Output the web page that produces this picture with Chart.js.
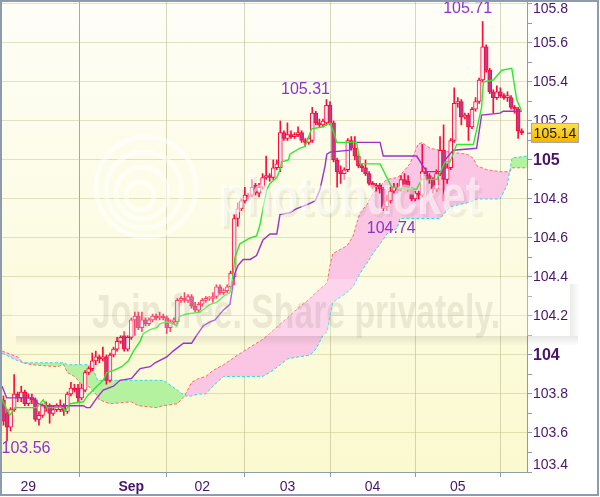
<!DOCTYPE html>
<html>
<head>
<meta charset="utf-8">
<script src="https://cdn.jsdelivr.net/npm/chart.js@4"></script>
<style>
  html, body { margin: 0; padding: 0; background: #fff; }
  #wrap { width: 600px; height: 497px; }
</style>
</head>
<body>
<div id="wrap"><canvas id="c" width="600" height="497"></canvas></div>
<script>
// hourly candles, x = slot index
const opens = [103.77,103.70,103.63,103.72,103.80,103.78,103.81,103.75,103.78,103.77,
  103.67,103.69,103.74,103.74,103.70,103.72,103.72,103.74,103.71,103.80,
  103.83,103.83,103.78,103.82,103.91,103.93,103.97,103.99,103.98,103.99,
  103.87,104.00,104.03,104.07,104.10,104.03,104.09,104.18,104.20,104.14,
  104.18,104.16,104.18,104.20,104.19,104.20,104.19,104.14,104.17,104.17,
  104.28,104.29,104.28,104.30,104.25,104.23,104.26,104.28,104.29,104.29,
  104.30,104.35,104.32,104.33,104.35,104.40,104.70,104.75,104.79,104.82,
  104.82,104.87,104.83,104.86,104.91,104.92,104.91,104.96,104.96,105.14,
  105.11,105.13,105.12,105.13,105.14,105.10,105.09,105.10,105.24,105.19,
  105.18,105.19,105.28,105.19,105.00,104.94,104.93,104.95,105.10,105.06,
  105.02,104.97,104.96,104.93,104.88,104.86,104.87,104.85,104.76,104.79,
  104.84,104.86,104.85,104.90,104.89,104.85,104.80,104.83,104.82,104.94,
  104.92,104.90,104.85,104.93,105.05,104.90,104.96,105.10,105.29,105.30,
  105.22,105.23,105.17,105.26,105.30,105.41,105.58,105.46,105.35,105.32,
  105.35,105.33,105.32,105.32,105.27,105.26,105.15];
const highs = [103.79,103.72,103.73,103.90,103.81,103.84,103.82,103.80,103.80,103.78,
  103.71,103.75,103.76,103.75,103.74,103.75,103.77,103.75,103.81,103.86,
  103.85,103.85,103.85,103.92,103.94,104.01,104.02,104.00,104.04,104.00,
  104.01,104.04,104.09,104.10,104.12,104.10,104.19,104.22,104.22,104.22,
  104.19,104.19,104.21,104.21,104.22,104.21,104.20,104.18,104.19,104.29,
  104.30,104.32,104.31,104.31,104.27,104.27,104.29,104.30,104.30,104.32,
  104.36,104.36,104.34,104.36,104.43,104.72,104.78,104.80,104.86,104.83,
  104.90,104.88,104.88,104.93,105.02,104.93,105.00,105.00,105.20,105.15,
  105.19,105.15,105.14,105.17,105.15,105.11,105.12,105.27,105.25,105.21,
  105.21,105.31,105.30,105.20,105.01,104.97,104.96,105.11,105.12,105.12,
  105.03,104.98,105.00,104.94,104.89,104.88,104.88,104.86,104.82,104.86,
  104.88,104.88,104.92,104.93,104.92,104.86,104.84,104.84,105.08,104.96,
  104.93,104.91,104.95,105.12,105.18,104.98,105.11,105.37,105.32,105.31,
  105.24,105.24,105.27,105.32,105.42,105.71,105.59,105.47,105.36,105.38,
  105.37,105.34,105.35,105.33,105.28,105.27,105.16];
const lows = [103.64,103.56,103.61,103.71,103.76,103.76,103.74,103.74,103.75,103.66,
  103.64,103.68,103.71,103.65,103.69,103.71,103.71,103.69,103.70,103.79,
  103.81,103.76,103.77,103.81,103.90,103.92,103.95,103.96,103.97,103.85,
  103.86,103.99,104.02,104.06,104.02,104.02,104.08,104.10,104.13,104.12,
  104.15,104.15,104.17,104.18,104.18,104.18,104.11,104.12,104.16,104.16,
  104.27,104.27,104.27,104.24,104.22,104.22,104.25,104.27,104.28,104.27,
  104.29,104.31,104.31,104.32,104.34,104.36,104.66,104.74,104.78,104.80,
  104.81,104.82,104.81,104.85,104.90,104.89,104.90,104.95,104.94,105.10,
  105.10,105.11,105.11,105.12,105.09,105.07,105.08,105.09,105.18,105.17,
  105.17,105.18,105.18,104.99,104.86,104.88,104.90,104.94,105.05,105.00,
  104.96,104.94,104.92,104.87,104.85,104.84,104.83,104.74,104.74,104.78,
  104.83,104.83,104.84,104.85,104.84,104.79,104.79,104.80,104.81,104.90,
  104.88,104.83,104.84,104.92,104.79,104.88,104.95,105.09,105.27,105.18,
  105.21,105.10,105.16,105.25,105.29,105.40,105.45,105.34,105.24,105.31,
  105.32,105.31,105.30,105.26,105.24,105.11,105.13];
const closes = [103.66,103.63,103.72,103.80,103.78,103.81,103.75,103.78,103.77,103.67,
  103.69,103.74,103.73,103.70,103.72,103.74,103.74,103.71,103.80,103.83,
  103.82,103.78,103.83,103.91,103.93,103.97,103.99,103.98,103.99,103.87,
  104.00,104.03,104.07,104.09,104.03,104.09,104.18,104.20,104.14,104.18,
  104.16,104.18,104.20,104.19,104.20,104.19,104.14,104.17,104.18,104.28,
  104.29,104.28,104.30,104.25,104.23,104.26,104.28,104.29,104.29,104.30,
  104.35,104.32,104.33,104.35,104.42,104.70,104.75,104.79,104.82,104.81,
  104.86,104.83,104.86,104.91,104.92,104.91,104.96,104.98,105.14,105.11,
  105.13,105.12,105.13,105.14,105.10,105.09,105.11,105.24,105.19,105.18,
  105.20,105.28,105.19,105.00,104.94,104.93,104.95,105.10,105.06,105.02,
  104.97,104.96,104.93,104.88,104.86,104.87,104.85,104.75,104.79,104.84,
  104.86,104.84,104.90,104.86,104.85,104.80,104.83,104.82,104.94,104.92,
  104.90,104.85,104.93,105.05,104.90,104.96,105.10,105.29,105.30,105.22,
  105.23,105.17,105.26,105.30,105.41,105.58,105.46,105.35,105.32,105.35,
  105.33,105.32,105.33,105.27,105.26,105.15,105.14];

// conversion line (green) and base line (purple), read at their corners
const tenkanX = [-0.4,1.8,3.2,9.4,11.2,12.2,16.9,17.3,18.7,22.5,23.6,26.3,28.1,29.1,30.9,33.3,35.2,36.6,38.5,39.4,
  41.3,43.2,44.1,46,47.8,48.8,49.7,51.6,55.4,56.8,58.2,60.1,61.9,63.8,64.6,65.2,66.6,69.5,71.3,72.3,
  73.2,74.2,75.1,77,77.9,78.4,80.3,80.7,83.5,85,86.8,90.1,92,93.1,93.9,99.5,100.5,106.1,109.4,116.4,
  117.8,122.1,124.4,125.8,127.7,132.4,134.7,135.2,138,140.4,143.2,144.6,146];
const tenkanY = [103.77,103.69,103.73,103.73,103.77,103.73,103.73,103.71,103.75,103.76,103.79,103.84,103.87,103.91,103.92,103.94,103.97,104.02,104.07,104.11,
  104.13,104.14,104.16,104.17,104.16,104.15,104.20,104.21,104.22,104.24,104.26,104.27,104.30,104.32,104.40,104.50,104.57,104.60,104.61,104.67,
  104.76,104.85,104.88,104.91,104.95,104.99,105.00,105.03,105.06,105.07,105.16,105.17,105.19,105.14,105.09,105.09,104.98,104.98,104.86,104.85,
  104.90,104.90,104.99,104.99,105.08,105.08,105.27,105.40,105.41,105.46,105.47,105.31,105.25];
const kijunX = [-0.4,0.9,8.4,9.8,11.2,22.5,23.4,24.4,26.3,28.1,31,32.8,36.1,37.5,38.5,41.3,42.7,46,47.8,50.7,
  53,54.4,56.3,58.2,59.6,61.9,63.8,65.2,66.1,67.5,69.5,71.3,73.1,75.1,77,77.9,80.7,82.6,85.4,87.8,
  89.2,90.6,91.1,92,97.6,98,106.1,107,116.4,119.2,123.5,124.4,126.7,133.3,134.7,139.9,140.8,146];
const kijunY = [103.84,103.78,103.78,103.75,103.74,103.74,103.73,103.73,103.78,103.82,103.84,103.87,103.88,103.91,103.93,103.94,103.96,103.99,104.02,104.06,
  104.06,104.10,104.15,104.17,104.18,104.23,104.26,104.42,104.46,104.49,104.49,104.51,104.59,104.62,104.62,104.72,104.73,104.75,104.77,104.79,
  104.85,104.97,105.03,105.04,105.05,105.09,105.09,105.02,105.02,104.94,104.94,105.00,105.05,105.06,105.23,105.24,105.25,105.25];

// cloud: leading span A (red dashed) and span B (cyan dashed)
const cloudX = [-0.4,4,5.5,8,15,17,18,20,22,24,25,26.5,27,30,36,38,43,45,49,51,
  53,55,57,59,62,66,69.5,73,75,78,80,83,86.4,88,90,91.2,92,92.8,96.8,98.5,
  99.6,100.5,102.4,104.1,106.9,108,110.9,111.7,114.5,116.8,117.9,120.2,123,125.8,130.6,132.3,133.4,136.2,139.9,141.9,
  142.7,143.3,147.5];
const spanA = [104.02,103.99,103.96,103.95,103.94,103.95,103.91,103.89,103.85,103.84,103.82,103.79,103.77,103.75,103.76,103.74,103.73,103.74,103.75,103.79,
  103.86,103.88,103.89,103.92,103.95,104.00,104.04,104.08,104.11,104.16,104.19,104.24,104.29,104.32,104.35,104.37,104.46,104.52,104.56,104.61,
  104.68,104.73,104.77,104.83,104.88,104.90,104.91,104.92,104.98,105.08,105.09,105.06,105.05,105.04,105.03,105.01,104.97,104.95,104.94,104.94,
  104.94,104.96,104.96];
const spanB = [104.01,103.97,103.96,103.96,103.96,103.96,103.95,103.95,103.95,103.95,103.94,103.87,103.87,103.87,103.87,103.87,103.87,103.87,103.82,103.79,
  103.79,103.80,103.80,103.84,103.89,103.89,103.89,103.89,103.91,103.95,103.98,103.99,104.00,104.03,104.10,104.12,104.20,104.27,104.32,104.35,
  104.39,104.42,104.47,104.52,104.59,104.62,104.65,104.70,104.70,104.70,104.70,104.70,104.70,104.76,104.78,104.79,104.80,104.80,104.80,104.87,
  104.95,105.01,105.02];

const dayTicks = [7, 36, 56, 80, 104, 128];
const dayLabels = ["29", "Sep", "02", "03", "04", "05"];

const yTickVals = [103.4,103.5,103.6,103.7,103.8,103.9,104,104.1,104.2,104.3,104.4,104.5,104.6,104.7,
  104.8,104.9,105,105.1,105.2,105.3,105.4,105.5,105.6,105.7,105.8];
const yLabelVals = [103.4,103.6,103.8,104,104.2,104.4,104.6,104.8,105,105.2,105.4,105.6,105.8];
const yLabels = ["103.4","103.6","103.8","104","104.2","104.4","104.6","104.8","105","105.2","105.4","105.6","105.8"];

// marked extremes
const markIdx = [135, 91, 107, 1];
const markVal = [105.71, 105.31, 104.74, 103.56];
const markText = ["105.71", "105.31", "104.74", "103.56"];
const lastPrice = 105.14;

const AXIS = "#8c9cac";
const LABEL = "#4a1466";
const CANDLE = "#ff0a3c";
const FONT = "'Liberation Sans', Arial, sans-serif";

const isMajor = v => Math.abs(Math.round(v * 5) - v * 5) < 1e-6;

const bgPlugin = {
  id: "bg",
  beforeDraw(chart) {
    const { ctx, chartArea: a } = chart;
    ctx.save();
    ctx.fillStyle = "#ffffff";
    ctx.fillRect(0, 0, chart.width, chart.height);
    const g = ctx.createLinearGradient(0, a.top, 0, a.bottom);
    g.addColorStop(0, "#fefef7");
    g.addColorStop(1, "#fbf9cf");
    ctx.fillStyle = g;
    ctx.fillRect(a.left, a.top, a.right - a.left, a.bottom - a.top);
    ctx.restore();
  }
};

// image-host watermark that sits over the reference picture
const watermarkPlugin = {
  id: "watermark",
  afterDatasetsDraw(chart) {
    const ctx = chart.ctx;
    ctx.save();
    // logo rings
    ctx.strokeStyle = "rgba(255,255,255,0.55)";
    ctx.lineWidth = 5;
    [14, 26, 38, 50].forEach((r, k) => {
      ctx.beginPath();
      ctx.arc(140 + k * 2, 196 - k * 3, r, 0, Math.PI * 2);
      ctx.stroke();
    });
    ctx.font = "bold 56px " + FONT;
    ctx.textAlign = "left";
    ctx.textBaseline = "alphabetic";
    ctx.fillStyle = "rgba(120,120,90,0.10)";
    ctx.fillText("photobucket", 221, 217, 262);
    ctx.fillStyle = "rgba(255,255,255,0.55)";
    ctx.fillText("photobucket", 218, 214, 262);

    // banner
    ctx.fillStyle = "rgba(255,255,255,0.25)";
    ctx.fillRect(12, 279, 558, 57);
    let g = ctx.createLinearGradient(0, 336, 0, 346);
    g.addColorStop(0, "rgba(90,90,60,0.14)");
    g.addColorStop(1, "rgba(90,90,60,0)");
    ctx.fillStyle = g;
    ctx.fillRect(16, 336, 562, 10);
    g = ctx.createLinearGradient(570, 0, 580, 0);
    g.addColorStop(0, "rgba(90,90,60,0.12)");
    g.addColorStop(1, "rgba(90,90,60,0)");
    ctx.fillStyle = g;
    ctx.fillRect(570, 284, 10, 52);
    ctx.font = "bold 48px " + FONT;
    ctx.fillStyle = "rgba(110,110,80,0.13)";
    ctx.fillText("Join free. Share privately.", 92, 328, 408);
    ctx.restore();
  }
};

const overlayPlugin = {
  id: "overlay",
  afterDraw(chart) {
    const { ctx, chartArea: a } = chart;
    const xs = chart.scales.x, ys = chart.scales.y;
    ctx.save();

    // right axis labels
    ctx.fillStyle = LABEL;
    ctx.textAlign = "left";
    ctx.textBaseline = "middle";
    yLabelVals.forEach((v, k) => {
      const bold = yLabels[k].indexOf(".") < 0;
      ctx.font = (bold ? "bold 16px " : "14px ") + FONT;
      let y = ys.getPixelForValue(v);
      y = Math.max(a.top + 7, Math.min(a.bottom - 7, y));
      ctx.fillText(yLabels[k], ys.left + 6, y + 0.5);
    });

    // last price box
    const py = ys.getPixelForValue(lastPrice);
    ctx.strokeStyle = "#9933cc";
    ctx.lineWidth = 1;
    ctx.beginPath();
    ctx.moveTo(a.right, py + 0.5);
    ctx.lineTo(a.right + 5, py + 0.5);
    ctx.stroke();
    const bx = a.right + 4.5, bw = 47, bh = 19;
    const g = ctx.createLinearGradient(0, py - bh / 2, 0, py + bh / 2);
    g.addColorStop(0, "#ffe24a");
    g.addColorStop(1, "#f4b400");
    ctx.fillStyle = g;
    ctx.fillRect(bx, py - bh / 2, bw, bh);
    ctx.strokeStyle = "#a8a8a8";
    ctx.strokeRect(bx, Math.round(py - bh / 2) + 0.5, bw, bh);
    ctx.fillStyle = "#1a1a1a";
    ctx.font = "14px " + FONT;
    ctx.textAlign = "center";
    ctx.fillText(lastPrice.toFixed(2), bx + bw / 2, py + 1);

    // extreme markers
    const offs = [[-15, -13], [-21, -10], [8, 18], [19, 8]];
    ctx.font = "16px " + FONT;
    ctx.fillStyle = "#8a35c8";
    markIdx.forEach((m, k) => {
      const x = xs.getPixelForValue(m) + offs[k][0];
      const y = ys.getPixelForValue(markVal[k]) + offs[k][1];
      ctx.fillText(markText[k], x, y);
    });

    // outer frame
    ctx.strokeStyle = AXIS;
    ctx.lineWidth = 2;
    ctx.strokeRect(1, 1, chart.width - 3, chart.height - 3);
    ctx.restore();
  }
};

const pts = (xa, ya) => xa.map((x, i) => ({ x: x, y: ya[i] }));

new Chart(document.getElementById("c"), {
  type: "bar",
  data: {
    datasets: [
      {
        type: "line", data: pts(cloudX, spanA), borderColor: "#ff6b6b", borderWidth: 1,
        borderDash: [3, 2], pointRadius: 0, tension: 0, order: 10,
        fill: { target: 1, above: "#fbc6e4", below: "#b4f2a0" }
      },
      {
        type: "line", data: pts(cloudX, spanB), borderColor: "#2fd8e8", borderWidth: 1,
        borderDash: [3, 2], pointRadius: 0, tension: 0, order: 9, fill: false
      },
      {
        type: "bar", data: opens.map((o, i) => ({ x: i, y: [lows[i], highs[i]] })),
        backgroundColor: CANDLE, barThickness: 1, grouped: false, order: 4
      },
      {
        type: "bar", data: opens.map((o, i) => ({ x: i, y: [o, closes[i]] })),
        backgroundColor: c => closes[c.dataIndex] >= opens[c.dataIndex] ? "#fff0f4" : "#c23a82",
        borderColor: CANDLE, borderWidth: 1, borderSkipped: false,
        barThickness: 4, minBarLength: 1, grouped: false, order: 3
      },
      {
        type: "line", data: pts(tenkanX, tenkanY), borderColor: "#2ee82e", borderWidth: 1.4,
        pointRadius: 0, tension: 0, order: 1, fill: false
      },
      {
        type: "line", data: pts(kijunX, kijunY), borderColor: "#9a32c8", borderWidth: 1.4,
        pointRadius: 0, tension: 0, order: 2, fill: false
      }
    ]
  },
  options: {
    responsive: false,
    devicePixelRatio: 1,
    animation: false,
    layout: { padding: { left: 2, top: 2, right: 0, bottom: 0 } },
    plugins: { legend: { display: false }, tooltip: { enabled: false } },
    scales: {
      x: {
        type: "linear", min: -0.42, max: 147.5, offset: false,
        afterBuildTicks: s => { s.ticks = dayTicks.map(v => ({ value: v })); },
        afterFit: s => { s.height = 25; },
        grid: {
          color: c => c.tick && c.tick.value === 36 ? "rgba(150,150,105,0.8)" : "rgba(175,175,130,0.5)",
          tickColor: AXIS, tickLength: 5, drawTicks: true
        },
        border: { color: AXIS, width: 1 },
        ticks: {
          autoSkip: false, maxRotation: 0, padding: 2, color: LABEL,
          font: c => ({ family: FONT, size: 14, weight: c.tick && c.tick.value === 36 ? "bold" : "normal" }),
          callback: (v, i) => dayLabels[i]
        }
      },
      y: {
        type: "linear", position: "right", min: 103.4, max: 105.81,
        afterBuildTicks: s => { s.ticks = yTickVals.map(v => ({ value: v })); },
        afterFit: s => { s.width = 73; },
        ticks: { display: false },
        grid: {
          color: c => c.tick && isMajor(c.tick.value) ? "rgba(190,190,140,0.45)" : "rgba(0,0,0,0)",
          tickColor: AXIS, tickLength: 5, drawTicks: true
        },
        border: { color: AXIS, width: 1 }
      }
    }
  },
  plugins: [bgPlugin, watermarkPlugin, overlayPlugin]
});
</script>
</body>
</html>
